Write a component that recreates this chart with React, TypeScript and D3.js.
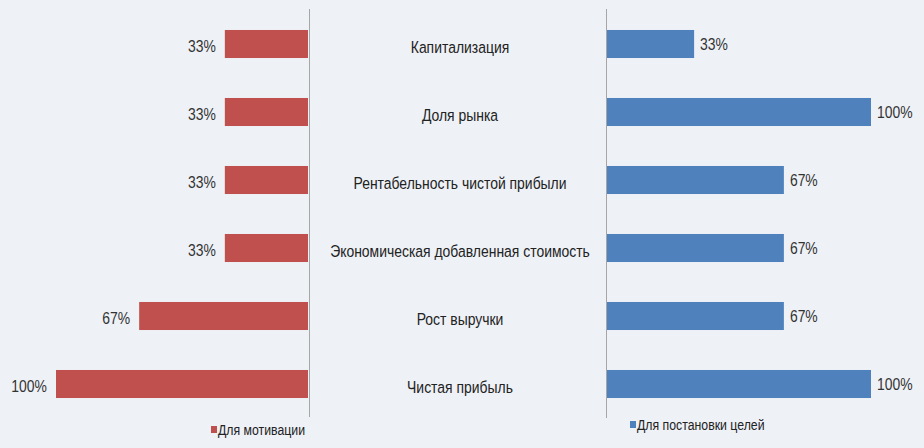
import React, { useEffect, useRef } from 'react';
import * as d3 from 'd3';

const CATEGORIES = [
  'Капитализация',
  'Доля рынка',
  'Рентабельность чистой прибыли',
  'Экономическая добавленная стоимость',
  'Рост выручки',
  'Чистая прибыль',
];
const MOTIVATION = [33, 33, 33, 33, 67, 100];
const GOALS = [33, 100, 67, 67, 67, 100];
const LEGEND = ['Для мотивации', 'Для постановки целей'];

const WIDTH = 924;
const HEIGHT = 448;
const FONT = "'Liberation Sans Narrow', 'Arial Narrow', 'Liberation Sans', sans-serif";
// no narrow font installed, so squeeze the text a bit horizontally
const SQUEEZE = 0.82;

const App = () => {
  const svgRef = useRef<SVGSVGElement>(null);

  useEffect(() => {
    document.body.style.margin = '0';
    const svg = d3.select(svgRef.current);
    svg.selectAll('*').remove();

    svg.append('rect').attr('width', WIDTH).attr('height', HEIGHT).attr('fill', '#eef1f6');

    // rows, top to bottom
    const y = d3.scaleBand<string>()
      .domain(CATEGORIES)
      .range([10, 418])
      .paddingInner(0.588)
      .paddingOuter(0.294);
    const mid = (i: number) => y(CATEGORIES[i])! + y.bandwidth() / 2;

    // left side grows to the left, right side to the right
    const xL = d3.scaleLinear().domain([0, 100]).range([308, 56]);
    const xR = d3.scaleLinear().domain([0, 100]).range([607, 871]);

    const place = (x: number, yy: number) => `translate(${x},${yy}) scale(${SQUEEZE},1)`;

    const left = svg.append('g');
    left.selectAll('rect')
      .data(MOTIVATION)
      .enter()
      .append('rect')
      .attr('x', (d) => xL(d))
      .attr('y', (_, i) => y(CATEGORIES[i])!)
      .attr('width', (d) => xL(0) - xL(d))
      .attr('height', y.bandwidth())
      .attr('fill', '#c0504d');

    left.selectAll('text')
      .data(MOTIVATION)
      .enter()
      .append('text')
      .attr('transform', (d, i) => place(xL(d) - 9, mid(i) + 2))
      .attr('dy', '0.35em')
      .attr('text-anchor', 'end')
      .attr('font-family', FONT)
      .attr('font-size', 17)
      .attr('fill', '#333')
      .text((d) => d + '%');

    const right = svg.append('g');
    right.selectAll('rect')
      .data(GOALS)
      .enter()
      .append('rect')
      .attr('x', xR(0))
      .attr('y', (_, i) => y(CATEGORIES[i])!)
      .attr('width', (d) => xR(d) - xR(0))
      .attr('height', y.bandwidth())
      .attr('fill', '#4f81bd');

    right.selectAll('text')
      .data(GOALS)
      .enter()
      .append('text')
      .attr('transform', (d, i) => place(xR(d) + 6, mid(i)))
      .attr('dy', '0.35em')
      .attr('font-family', FONT)
      .attr('font-size', 17)
      .attr('fill', '#333')
      .text((d) => d + '%');

    // axis lines
    svg.append('line')
      .attr('x1', 309.5).attr('x2', 309.5).attr('y1', 9).attr('y2', 417)
      .attr('stroke', '#a6a6a6');
    svg.append('line')
      .attr('x1', 606.5).attr('x2', 606.5).attr('y1', 9).attr('y2', 418)
      .attr('stroke', '#a6a6a6');

    // category names in the middle
    svg.append('g').selectAll('text')
      .data(CATEGORIES)
      .enter()
      .append('text')
      .attr('transform', (_, i) => place(460, mid(i) + 3))
      .attr('dy', '0.35em')
      .attr('text-anchor', 'middle')
      .attr('font-family', FONT)
      .attr('font-size', 17)
      .attr('fill', '#222')
      .text((d) => d);

    // legends
    const legend = [
      { x: 211, y: 426, color: '#c0504d', label: LEGEND[0] },
      { x: 630, y: 421, color: '#4f81bd', label: LEGEND[1] },
    ];
    legend.forEach((l) => {
      svg.append('rect')
        .attr('x', l.x).attr('y', l.y).attr('width', 6).attr('height', 7)
        .attr('fill', l.color);
      svg.append('text')
        .attr('transform', place(l.x + 7, l.y + 4))
        .attr('dy', '0.35em')
        .attr('font-family', FONT)
        .attr('font-size', 15)
        .attr('fill', '#222')
        .text(l.label);
    });
  }, []);

  return <svg ref={svgRef} width={WIDTH} height={HEIGHT} style={{ display: 'block' }}></svg>;
};

export default App;
